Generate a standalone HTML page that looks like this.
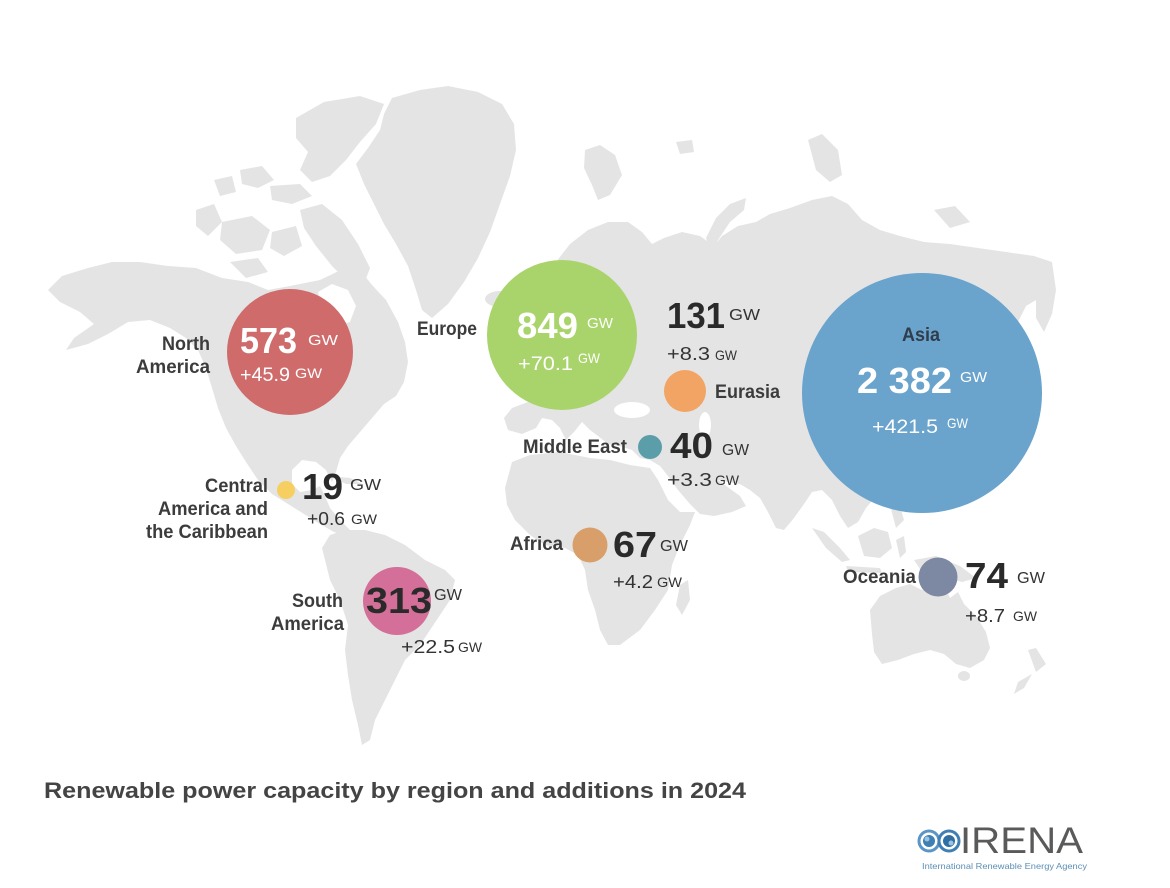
<!DOCTYPE html>
<html><head><meta charset="utf-8">
<style>
html,body{margin:0;padding:0;background:#fff;}
svg{display:block;}
text{font-family:"Liberation Sans",Arial,sans-serif;}
.lbl{font-size:19px;font-weight:bold;fill:#3c3c3c;}
.big{font-size:36px;font-weight:bold;fill:#2a2a2a;}
.bigw{font-size:36px;font-weight:bold;fill:#fff;}
.gw{font-size:16px;fill:#333;}
.gww{font-size:15px;fill:#fff;}
.add{font-size:18px;fill:#333;}
.addw{font-size:19px;fill:#fff;}
.sg{font-size:14px;fill:#333;}
.sgw{font-size:14px;fill:#fff;}
</style></head>
<body>
<svg width="1170" height="888" viewBox="0 0 1170 888" xmlns="http://www.w3.org/2000/svg">
<rect width="1170" height="888" fill="#fff"/>
<g fill="#e4e4e4">
<!-- North America -->
<path d="M48,290 L62,276 L88,268 L112,262 L140,262 L168,266 L196,268 L222,278 L248,282 L268,290 L290,286 L320,280 L345,268 L360,270 L372,285 L386,300 L398,322 L405,342 L408,362 L404,382 L396,396 L384,404 L372,418 L360,432 L348,446 L340,458 L336,472 L332,482 L326,470 L316,462 L302,460 L292,470 L292,484 L300,492 L312,490 L320,486 L324,494 L330,508 L340,520 L350,530 L346,536 L334,532 L320,524 L304,514 L288,504 L272,494 L258,480 L246,462 L236,446 L226,428 L218,408 L212,388 L206,368 L198,350 L186,338 L170,328 L150,320 L128,322 L108,334 L88,344 L66,350 L74,338 L94,324 L80,312 L60,302 Z"/>
<!-- Arctic islands -->
<path d="M300,210 L322,204 L342,220 L358,244 L370,268 L364,284 L348,282 L332,266 L316,246 L304,228 Z"/>
<path d="M296,118 L324,102 L360,96 L384,104 L376,124 L360,142 L346,160 L330,176 L312,182 L300,170 L308,152 L296,138 Z"/>
<path d="M270,186 L300,184 L312,196 L292,204 L272,200 Z"/>
<path d="M222,222 L252,216 L270,230 L262,250 L236,254 L220,240 Z"/>
<path d="M196,210 L214,204 L222,222 L208,236 L196,226 Z"/>
<path d="M240,170 L262,166 L274,180 L258,188 L242,184 Z"/>
<path d="M272,232 L296,226 L302,246 L284,256 L270,248 Z"/>
<path d="M230,262 L258,258 L268,272 L246,278 Z"/>
<path d="M214,180 L232,176 L236,192 L220,196 Z"/>
<!-- Greenland -->
<path d="M392,98 L420,90 L448,86 L478,92 L502,104 L514,124 L516,150 L510,176 L500,204 L490,232 L478,258 L464,282 L448,304 L432,318 L422,310 L416,290 L408,266 L396,244 L384,224 L374,204 L364,184 L356,164 L368,148 L380,130 L384,114 Z"/>
<ellipse cx="500" cy="299" rx="15" ry="8"/>
<!-- Arctic Eurasia islands -->
<path d="M585,150 L600,145 L615,155 L622,175 L610,195 L598,200 L592,185 L584,168 Z"/>
<path d="M676,142 L692,140 L694,152 L680,154 Z"/>
<path d="M706,238 L716,218 L730,204 L746,198 L744,210 L730,222 L718,240 L712,255 Z"/>
<path d="M808,140 L822,134 L838,150 L842,175 L830,182 L816,170 Z"/>
<path d="M934,210 L955,206 L970,222 L950,228 Z"/>
<!-- Eurasia -->
<path d="M548,282 L556,262 L570,244 L588,230 L608,222 L628,222 L642,232 L652,244 L664,238 L682,232 L700,236 L714,246 L722,236 L738,226 L756,222 L770,214 L790,208 L812,200 L832,196 L848,204 L862,220 L880,230 L900,236 L924,242 L950,244 L978,248 L1006,252 L1034,256 L1052,262 L1056,290 L1052,314 L1044,332 L1036,318 L1036,300 L1026,306 L1016,326 L1020,350 L1024,372 L1012,392 L1000,410 L990,430 L978,452 L964,470 L948,482 L932,484 L918,494 L904,498 L890,494 L876,496 L866,508 L858,522 L848,528 L840,516 L832,500 L822,490 L812,492 L804,504 L794,518 L784,530 L776,528 L768,512 L760,498 L750,490 L740,484 L728,482 L718,480 L740,496 L746,506 L732,512 L714,516 L700,514 L690,504 L678,490 L668,476 L660,466 L650,460 L640,458 L632,450 L620,446 L608,444 L598,436 L590,430 L582,422 L574,432 L566,440 L560,428 L552,420 L542,418 L536,428 L522,434 L508,430 L504,418 L512,408 L528,402 L536,394 L530,382 L520,372 L526,362 L540,356 L548,342 L546,322 L544,300 Z"/>
<path d="M1022,380 L1032,372 L1040,385 L1034,410 L1022,425 L1014,418 L1024,400 Z"/>
<!-- SE Asia -->
<path d="M812,528 L824,532 L840,548 L850,560 L842,562 L826,548 Z"/>
<path d="M846,566 L880,568 L882,573 L848,572 Z"/>
<path d="M858,536 L874,528 L888,532 L892,548 L880,558 L864,556 Z"/>
<path d="M896,540 L904,536 L906,552 L900,558 Z"/>
<path d="M890,505 L898,500 L904,520 L896,528 Z"/>
<path d="M914,560 L936,556 L960,566 L976,578 L962,582 L942,576 L922,572 Z"/>
<!-- Australia / NZ -->
<path d="M870,610 L880,596 L896,588 L910,584 L922,590 L932,582 L944,586 L950,598 L958,592 L964,604 L976,616 L986,632 L990,648 L984,660 L970,668 L956,664 L944,654 L930,650 L914,654 L898,660 L882,664 L874,652 L872,634 Z"/>
<ellipse cx="964" cy="676" rx="6" ry="5"/>
<path d="M1028,650 L1036,648 L1046,664 L1036,672 Z"/>
<path d="M1032,674 L1024,688 L1014,694 L1018,682 Z"/>
<!-- Africa -->
<path d="M512,462 L530,455 L560,452 L590,458 L610,460 L630,465 L650,468 L658,480 L668,500 L680,512 L695,512 L690,525 L680,545 L672,565 L668,590 L655,610 L640,630 L620,645 L608,645 L600,630 L595,610 L588,590 L585,570 L578,555 L565,548 L545,545 L530,535 L515,520 L507,505 L505,488 Z"/>
<path d="M680,585 L688,580 L690,600 L682,615 L676,605 Z"/>
<!-- South America -->
<path d="M330,535 L345,530 L365,530 L385,535 L405,545 L425,560 L445,570 L455,580 L450,600 L440,615 L430,630 L420,645 L405,660 L395,680 L385,700 L375,720 L370,740 L362,745 L358,725 L352,700 L348,675 L345,650 L348,625 L340,600 L330,580 L325,560 L322,548 Z"/>
<path d="M330,476 L350,478 L362,484 L346,484 Z"/>
</g>
<g fill="#fff">
<path d="M318,292 L332,284 L348,290 L356,306 L350,322 L336,326 L324,316 Z"/>
<ellipse cx="632" cy="410" rx="18" ry="8"/>
<ellipse cx="705" cy="425" rx="6" ry="13"/>
</g>

<!-- Circles -->
<circle cx="290" cy="352" r="63" fill="#cf6b6b"/>
<circle cx="562" cy="335" r="75" fill="#a9d46b"/>
<circle cx="685" cy="391" r="21" fill="#f1a463"/>
<circle cx="650" cy="447" r="12" fill="#5b9ea9"/>
<circle cx="922" cy="393" r="120" fill="#6aa4cd"/>
<circle cx="286" cy="490" r="9" fill="#f6cf60"/>
<circle cx="397" cy="601" r="34" fill="#d36f98"/>
<circle cx="590" cy="545" r="17.5" fill="#d99f6a"/>
<circle cx="938" cy="577" r="19.5" fill="#7d88a3"/>

<!-- North America -->
<text class="lbl" x="162" y="350" textLength="48" lengthAdjust="spacingAndGlyphs">North</text>
<text class="lbl" x="136" y="373" textLength="74" lengthAdjust="spacingAndGlyphs">America</text>
<text class="bigw" x="240" y="353" font-size="34" textLength="57" lengthAdjust="spacingAndGlyphs">573</text>
<text class="gww" x="308" y="345" textLength="30" lengthAdjust="spacingAndGlyphs">GW</text>
<text class="addw" x="240" y="381" textLength="50" lengthAdjust="spacingAndGlyphs">+45.9</text>
<text class="sgw" x="295" y="378" textLength="27" lengthAdjust="spacingAndGlyphs">GW</text>

<!-- Europe -->
<text class="lbl" x="417" y="335" textLength="60" lengthAdjust="spacingAndGlyphs">Europe</text>
<text class="bigw" x="517" y="338" textLength="61" lengthAdjust="spacingAndGlyphs">849</text>
<text class="gww" x="587" y="328" textLength="26" lengthAdjust="spacingAndGlyphs">GW</text>
<text class="addw" x="518" y="370" textLength="55" lengthAdjust="spacingAndGlyphs">+70.1</text>
<text class="sgw" x="578" y="363" font-size="13" textLength="22" lengthAdjust="spacingAndGlyphs">GW</text>

<!-- Eurasia -->
<text class="big" x="667" y="328" textLength="58" lengthAdjust="spacingAndGlyphs">131</text>
<text class="gw" x="729" y="320" textLength="31" lengthAdjust="spacingAndGlyphs">GW</text>
<text class="add" x="667" y="360" textLength="43" lengthAdjust="spacingAndGlyphs">+8.3</text>
<text class="sg" x="715" y="360" textLength="22" lengthAdjust="spacingAndGlyphs">GW</text>
<text class="lbl" x="715" y="398" textLength="65" lengthAdjust="spacingAndGlyphs">Eurasia</text>

<!-- Middle East -->
<text class="lbl" x="523" y="453" textLength="104" lengthAdjust="spacingAndGlyphs">Middle East</text>
<text class="big" x="670" y="458" textLength="43" lengthAdjust="spacingAndGlyphs">40</text>
<text class="gw" x="722" y="455" textLength="27" lengthAdjust="spacingAndGlyphs">GW</text>
<text class="add" x="667" y="486" textLength="45" lengthAdjust="spacingAndGlyphs">+3.3</text>
<text class="sg" x="715" y="485" textLength="24" lengthAdjust="spacingAndGlyphs">GW</text>

<!-- Asia -->
<text class="lbl" x="902" y="341" fill="#2f3d4c" style="fill:#2f3d4c" textLength="38" lengthAdjust="spacingAndGlyphs">Asia</text>
<text class="bigw" x="857" y="393" font-size="37" textLength="95" lengthAdjust="spacingAndGlyphs">2 382</text>
<text class="gww" x="960" y="382" font-size="16" textLength="27" lengthAdjust="spacingAndGlyphs">GW</text>
<text class="addw" x="872" y="433" textLength="66" lengthAdjust="spacingAndGlyphs">+421.5</text>
<text class="sgw" x="947" y="428" textLength="21" lengthAdjust="spacingAndGlyphs">GW</text>

<!-- Central America -->
<text class="lbl" x="205" y="492" textLength="63" lengthAdjust="spacingAndGlyphs">Central</text>
<text class="lbl" x="158" y="515" textLength="110" lengthAdjust="spacingAndGlyphs">America and</text>
<text class="lbl" x="146" y="538" textLength="122" lengthAdjust="spacingAndGlyphs">the Caribbean</text>
<text class="big" x="302" y="499" textLength="41" lengthAdjust="spacingAndGlyphs">19</text>
<text class="gw" x="350" y="490" textLength="31" lengthAdjust="spacingAndGlyphs">GW</text>
<text class="add" x="307" y="525" textLength="38" lengthAdjust="spacingAndGlyphs">+0.6</text>
<text class="sg" x="351" y="524" textLength="26" lengthAdjust="spacingAndGlyphs">GW</text>

<!-- South America -->
<text class="lbl" x="292" y="607" textLength="51" lengthAdjust="spacingAndGlyphs">South</text>
<text class="lbl" x="271" y="630" textLength="73" lengthAdjust="spacingAndGlyphs">America</text>
<text class="big" x="366" y="613" textLength="66" lengthAdjust="spacingAndGlyphs">313</text>
<text class="gw" x="434" y="600" textLength="28" lengthAdjust="spacingAndGlyphs">GW</text>
<text class="add" x="401" y="653" textLength="54" lengthAdjust="spacingAndGlyphs">+22.5</text>
<text class="sg" x="458" y="652" textLength="24" lengthAdjust="spacingAndGlyphs">GW</text>

<!-- Africa -->
<text class="lbl" x="510" y="550" textLength="53" lengthAdjust="spacingAndGlyphs">Africa</text>
<text class="big" x="613" y="557" textLength="44" lengthAdjust="spacingAndGlyphs">67</text>
<text class="gw" x="660" y="551" textLength="28" lengthAdjust="spacingAndGlyphs">GW</text>
<text class="add" x="613" y="588" textLength="40" lengthAdjust="spacingAndGlyphs">+4.2</text>
<text class="sg" x="657" y="587" textLength="25" lengthAdjust="spacingAndGlyphs">GW</text>

<!-- Oceania -->
<text class="lbl" x="843" y="583" textLength="73" lengthAdjust="spacingAndGlyphs">Oceania</text>
<text class="big" x="965" y="588" textLength="43" lengthAdjust="spacingAndGlyphs">74</text>
<text class="gw" x="1017" y="583" textLength="28" lengthAdjust="spacingAndGlyphs">GW</text>
<text class="add" x="965" y="622" textLength="40" lengthAdjust="spacingAndGlyphs">+8.7</text>
<text class="sg" x="1013" y="621" textLength="24" lengthAdjust="spacingAndGlyphs">GW</text>

<!-- Title -->
<text x="44" y="798" font-size="22" font-weight="bold" fill="#444" textLength="702" lengthAdjust="spacingAndGlyphs">Renewable power capacity by region and additions in 2024</text>

<!-- IRENA logo -->
<g>
<circle cx="929" cy="841" r="10" fill="none" stroke="#5b95c5" stroke-width="3"/>
<circle cx="949" cy="841" r="10" fill="none" stroke="#3f7fb3" stroke-width="3"/>
<circle cx="929" cy="841" r="6" fill="#3f7fb3"/>
<circle cx="949" cy="841" r="6" fill="#2f6fa3"/>
<circle cx="927" cy="839" r="2.5" fill="#9cc3e0"/>
<circle cx="951" cy="843" r="2.5" fill="#9cc3e0"/>
</g>
<text x="960" y="853" font-size="37" fill="#5a5a5a" textLength="123" lengthAdjust="spacingAndGlyphs">IRENA</text>
<text x="922" y="869" font-size="8.5" fill="#5b8fb5" textLength="165" lengthAdjust="spacingAndGlyphs">International Renewable Energy Agency</text>
</svg>
</body></html>
